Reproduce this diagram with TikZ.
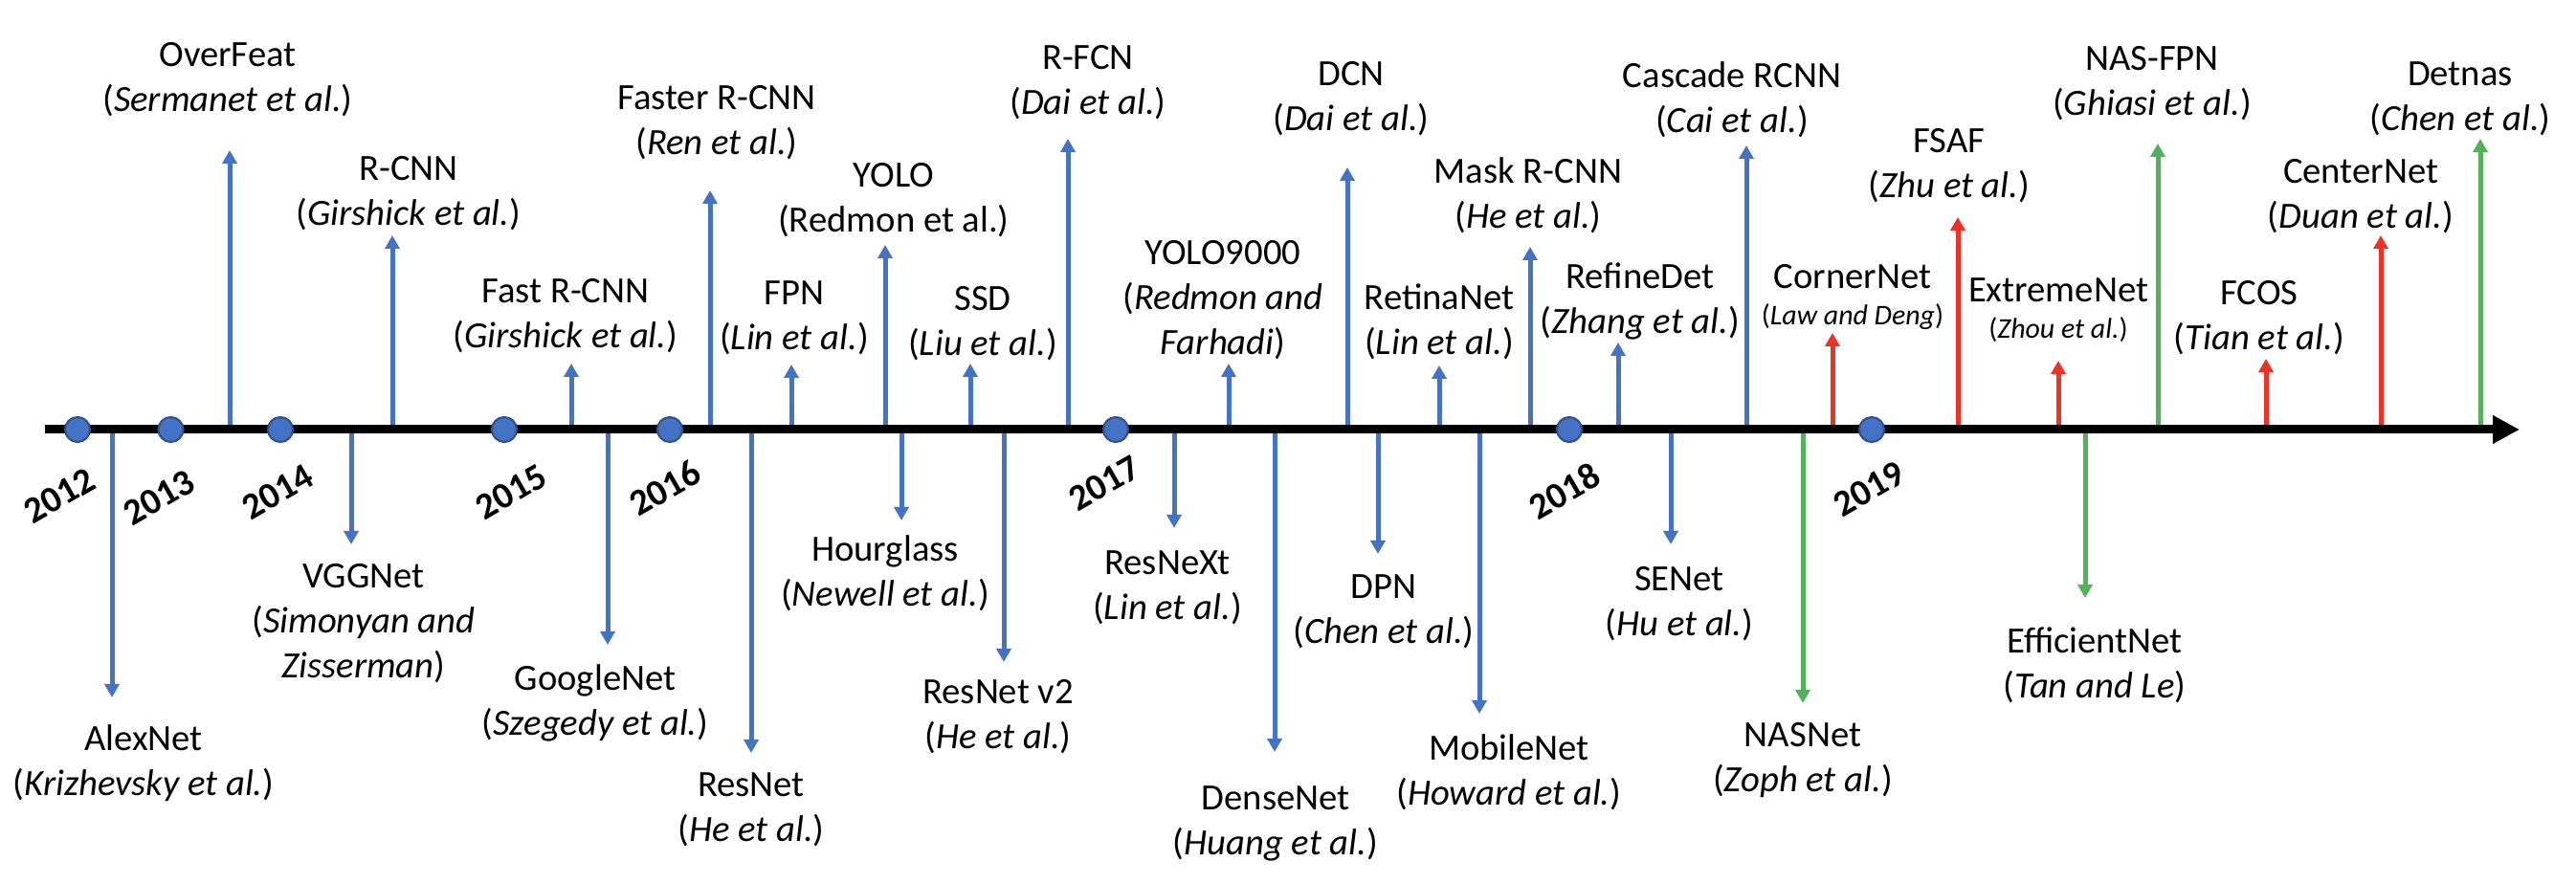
\documentclass[tikz,border=0pt]{standalone}
\usepackage{fontspec}
\setmainfont{Carlito}
\usepackage{tikz}
\usetikzlibrary{positioning,arrows,arrows.meta}

\definecolor{netblue}{RGB}{68,114,196}
\definecolor{dotedge}{RGB}{47,82,143}
\definecolor{netred}{RGB}{237,50,36}
\definecolor{netgreen}{RGB}{82,178,90}

\newcommand{\smallcite}{\fontsize{8.5pt}{10pt}\selectfont}

\begin{document}
\begin{tikzpicture}[
	model/.style={align=center, inner sep=0pt, font=\fontsize{11pt}{13.4pt}\selectfont},
	year/.style={font=\fontsize{11pt}{13.4pt}\selectfont\bfseries, rotate=30, inner sep=0pt},
	yeardot/.style={circle, fill=netblue, draw=dotedge, line width=0.6pt, minimum size=0.26cm, inner sep=0pt},
	link/.style={line width=0.05cm, -{Triangle[width=0.15cm,length=0.14cm]}}]

	\useasboundingbox (0,0) rectangle (26.92,9.24);
	\coordinate (axis) at (0,4.75);
	\coordinate (start) at (0.47,4.75);
	\coordinate (end) at (26.33,4.75);

	% arrow tips above the time line
	\coordinate (overfeat-t) at (2.40,7.67);
	\coordinate (rcnn-t) at (4.10,6.78);
	\coordinate (fastrcnn-t) at (5.97,5.44);
	\coordinate (fasterrcnn-t) at (7.42,7.25);
	\coordinate (fpn-t) at (8.27,5.43);
	\coordinate (yolo-t) at (9.25,6.68);
	\coordinate (ssd-t) at (10.14,5.44);
	\coordinate (rfcn-t) at (11.16,7.79);
	\coordinate (yolo9000-t) at (12.84,5.44);
	\coordinate (dcn-t) at (14.08,7.49);
	\coordinate (retinanet-t) at (15.04,5.42);
	\coordinate (maskrcnn-t) at (15.99,6.66);
	\coordinate (refinedet-t) at (16.91,5.66);
	\coordinate (cascade-t) at (18.25,7.72);
	\coordinate (cornernet-t) at (19.15,5.76);
	\coordinate (fsaf-t) at (20.46,6.97);
	\coordinate (extremenet-t) at (21.51,5.47);
	\coordinate (nasfpn-t) at (22.55,7.74);
	\coordinate (fcos-t) at (23.68,5.49);
	\coordinate (centernet-t) at (24.88,6.78);
	\coordinate (detnas-t) at (25.92,7.79);

	% arrow tips below the time line
	\coordinate (alexnet-t) at (1.17,1.95);
	\coordinate (vggnet-t) at (3.67,3.55);
	\coordinate (googlenet-t) at (6.35,2.50);
	\coordinate (resnet-t) at (7.85,1.37);
	\coordinate (hourglass-t) at (9.42,3.80);
	\coordinate (resnetv2-t) at (10.49,2.32);
	\coordinate (resnext-t) at (12.27,3.72);
	\coordinate (densenet-t) at (13.32,1.38);
	\coordinate (dpn-t) at (14.40,3.45);
	\coordinate (mobilenet-t) at (15.46,1.78);
	\coordinate (senet-t) at (17.46,3.55);
	\coordinate (nasnet-t) at (18.84,1.89);
	\coordinate (efficientnet-t) at (21.79,2.99);

	\draw[link,netblue] (overfeat-t |- axis) -- (overfeat-t);
	\draw[link,netblue] (rcnn-t |- axis) -- (rcnn-t);
	\draw[link,netblue] (fastrcnn-t |- axis) -- (fastrcnn-t);
	\draw[link,netblue] (fasterrcnn-t |- axis) -- (fasterrcnn-t);
	\draw[link,netblue] (fpn-t |- axis) -- (fpn-t);
	\draw[link,netblue] (yolo-t |- axis) -- (yolo-t);
	\draw[link,netblue] (ssd-t |- axis) -- (ssd-t);
	\draw[link,netblue] (rfcn-t |- axis) -- (rfcn-t);
	\draw[link,netblue] (yolo9000-t |- axis) -- (yolo9000-t);
	\draw[link,netblue] (dcn-t |- axis) -- (dcn-t);
	\draw[link,netblue] (retinanet-t |- axis) -- (retinanet-t);
	\draw[link,netblue] (maskrcnn-t |- axis) -- (maskrcnn-t);
	\draw[link,netblue] (refinedet-t |- axis) -- (refinedet-t);
	\draw[link,netblue] (cascade-t |- axis) -- (cascade-t);
	\draw[link,netred] (cornernet-t |- axis) -- (cornernet-t);
	\draw[link,netred] (fsaf-t |- axis) -- (fsaf-t);
	\draw[link,netred] (extremenet-t |- axis) -- (extremenet-t);
	\draw[link,netgreen] (nasfpn-t |- axis) -- (nasfpn-t);
	\draw[link,netred] (fcos-t |- axis) -- (fcos-t);
	\draw[link,netred] (centernet-t |- axis) -- (centernet-t);
	\draw[link,netgreen] (detnas-t |- axis) -- (detnas-t);

	\draw[link,netblue] (alexnet-t |- axis) -- (alexnet-t);
	\draw[link,netblue] (vggnet-t |- axis) -- (vggnet-t);
	\draw[link,netblue] (googlenet-t |- axis) -- (googlenet-t);
	\draw[link,netblue] (resnet-t |- axis) -- (resnet-t);
	\draw[link,netblue] (hourglass-t |- axis) -- (hourglass-t);
	\draw[link,netblue] (resnetv2-t |- axis) -- (resnetv2-t);
	\draw[link,netblue] (resnext-t |- axis) -- (resnext-t);
	\draw[link,netblue] (densenet-t |- axis) -- (densenet-t);
	\draw[link,netblue] (dpn-t |- axis) -- (dpn-t);
	\draw[link,netblue] (mobilenet-t |- axis) -- (mobilenet-t);
	\draw[link,netblue] (senet-t |- axis) -- (senet-t);
	\draw[link,netgreen] (nasnet-t |- axis) -- (nasnet-t);
	\draw[link,netgreen] (efficientnet-t |- axis) -- (efficientnet-t);

	% time line
	\draw[line width=0.09cm, -{Triangle[width=0.28cm,length=0.28cm]}] (start) -- (end);

	\node[yeardot] (d2012) at (0.81,4.75) {};
	\node[yeardot] (d2013) at (1.785,4.75) {};
	\node[yeardot] (d2014) at (2.93,4.75) {};
	\node[yeardot] (d2015) at (5.27,4.75) {};
	\node[yeardot] (d2016) at (7.00,4.75) {};
	\node[yeardot] (d2017) at (11.66,4.75) {};
	\node[yeardot] (d2018) at (16.40,4.75) {};
	\node[yeardot] (d2019) at (19.56,4.75) {};

	\node[year] (y2012) at (0.62,4.06) {2012};
	\node[year] (y2013) at (1.66,4.04) {2013};
	\node[year] (y2014) at (2.90,4.10) {2014};
	\node[year] (y2015) at (5.34,4.10) {2015};
	\node[year] (y2016) at (6.95,4.14) {2016};
	\node[year] (y2017) at (11.54,4.19) {2017};
	\node[year] (y2018) at (16.35,4.11) {2018};
	\node[year] (y2019) at (19.53,4.13) {2019};

	% labels above
	\node[model, anchor=south] (overfeat) at (2.38,8.01) {OverFeat\\(\textit{Sermanet et al.})};
	\node[model, anchor=south] (rcnn) at (4.27,6.82) {R-CNN\\(\textit{Girshick et al.})};
	\node[model, anchor=south] (fastrcnn) at (5.91,5.54) {Fast R-CNN\\(\textit{Girshick et al.})};
	\node[model, anchor=south] (fasterrcnn) at (7.49,7.56) {Faster R-CNN\\(\textit{Ren et al.})};
	\node[model, anchor=south] (fpn) at (8.30,5.52) {FPN\\(\textit{Lin et al.})};
	\node[model, anchor=south] (yolo) at (9.34,6.75) {YOLO\\(Redmon et al.)};
	\node[model, anchor=south] (ssd) at (10.27,5.46) {SSD\\(\textit{Liu et al.})};
	\node[model, anchor=south] (rfcn) at (11.37,7.98) {R-FCN\\(\textit{Dai et al.})};
	\node[model, anchor=south] (yolo9000) at (12.78,5.47) {YOLO9000\\(\textit{Redmon and}\\\textit{Farhadi})};
	\node[model, anchor=south] (dcn) at (14.12,7.81) {DCN\\(\textit{Dai et al.})};
	\node[model, anchor=south] (retinanet) at (15.04,5.47) {RetinaNet\\(\textit{Lin et al.})};
	\node[model, anchor=south] (maskrcnn) at (15.97,6.79) {Mask R-CNN\\(\textit{He et al.})};
	\node[model, anchor=south] (refinedet) at (17.14,5.68) {RefineDet\\(\textit{Zhang et al.})};
	\node[model, anchor=south] (cascade) at (18.10,7.79) {Cascade RCNN\\(\textit{Cai et al.})};
	\node[model, anchor=south] (cornernet) at (19.36,5.79) {CornerNet\\[-2.6pt]{\smallcite(\textit{Law and Deng})}};
	\node[model, anchor=south] (fsaf) at (20.37,7.11) {FSAF\\(\textit{Zhu et al.})};
	\node[model, anchor=south] (extremenet) at (21.51,5.66) {ExtremeNet\\[-2.6pt]{\smallcite(\textit{Zhou et al.})}};
	\node[model, anchor=south] (nasfpn) at (22.49,7.97) {NAS-FPN\\(\textit{Ghiasi et al.})};
	\node[model, anchor=south] (fcos) at (23.61,5.52) {FCOS\\(\textit{Tian et al.})};
	\node[model, anchor=south] (centernet) at (24.67,6.79) {CenterNet\\(\textit{Duan et al.})};
	\node[model, anchor=south] (detnas) at (25.71,7.81) {Detnas\\(\textit{Chen et al.})};

	% labels below
	\node[model, anchor=north] (alexnet) at (1.50,1.67) {AlexNet\\(\textit{Krizhevsky et al.})};
	\node[model, anchor=north] (vggnet) at (3.80,3.35) {VGGNet\\(\textit{Simonyan and}\\\textit{Zisserman})};
	\node[model, anchor=north] (googlenet) at (6.22,2.30) {GoogleNet\\(\textit{Szegedy et al.})};
	\node[model, anchor=north] (resnet) at (7.85,1.17) {ResNet\\(\textit{He et al.})};
	\node[model, anchor=north] (hourglass) at (9.25,3.65) {Hourglass\\(\textit{Newell et al.})};
	\node[model, anchor=north] (resnetv2) at (10.43,2.14) {ResNet v2\\(\textit{He et al.})};
	\node[model, anchor=north] (resnext) at (12.20,3.49) {ResNeXt\\(\textit{Lin et al.})};
	\node[model, anchor=north] (densenet) at (13.33,1.03) {DenseNet\\(\textit{Huang et al.})};
	\node[model, anchor=north] (dpn) at (14.46,3.24) {DPN\\(\textit{Chen et al.})};
	\node[model, anchor=north] (mobilenet) at (15.77,1.57) {MobileNet\\(\textit{Howard et al.})};
	\node[model, anchor=north] (senet) at (17.55,3.32) {SENet\\(\textit{Hu et al.})};
	\node[model, anchor=north] (nasnet) at (18.84,1.69) {NASNet\\(\textit{Zoph et al.})};
	\node[model, anchor=north] (efficientnet) at (21.89,2.69) {EfficientNet\\(\textit{Tan and Le})};
\end{tikzpicture}
\end{document}
